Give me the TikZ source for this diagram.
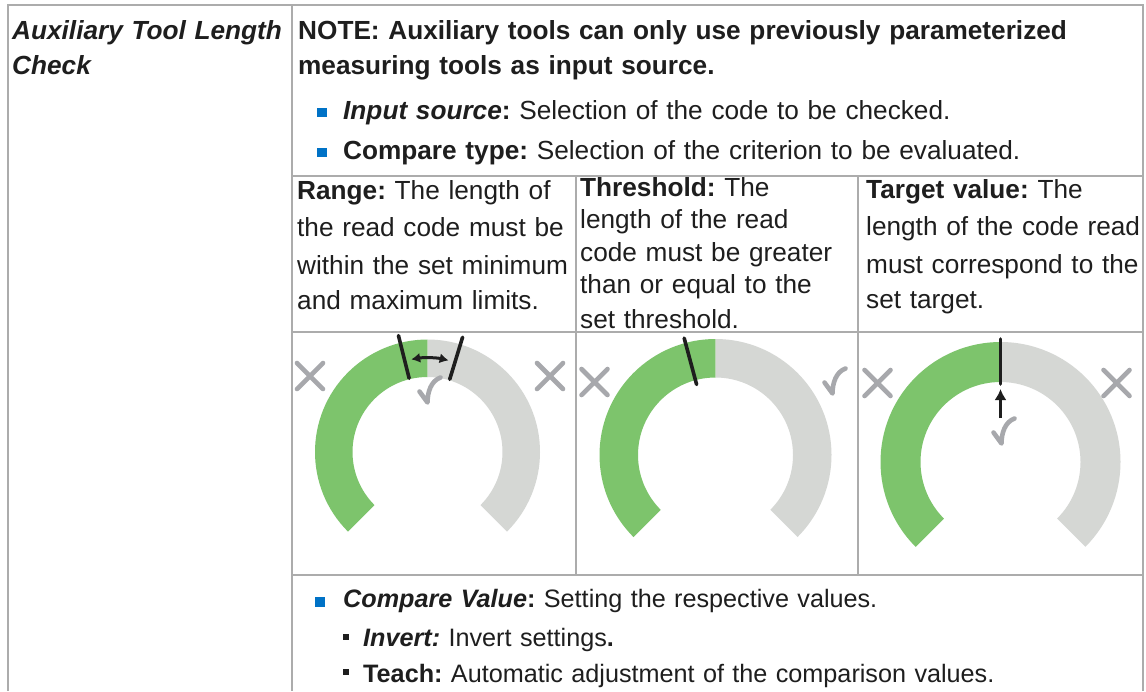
\documentclass[tikz,border=0pt]{standalone}
\usepackage{fontspec}
\setmainfont{Liberation Sans}
\usetikzlibrary{arrows.meta}
\frenchspacing
\definecolor{gridgrey}{RGB}{172,172,172}
\definecolor{gaugegreen}{RGB}{125,196,108}
\definecolor{gaugegrey}{RGB}{213,215,212}
\definecolor{markgrey}{RGB}{167,168,172}
\definecolor{bulletblue}{RGB}{0,114,198}
\definecolor{inkblack}{RGB}{30,30,30}
\tikzset{
  gridline/.style={draw=gridgrey,line width=1.6pt},
  celltext/.style={anchor=base west,align=left,inner sep=0pt,text=inkblack,
    font=\fontsize{26.2}{35}\selectfont},
  smalltext/.style={celltext,font=\fontsize{25.2}{35}\selectfont},
  bluebullet/.style={fill=bulletblue,inner sep=0pt,minimum size=9.5pt},
  blackbullet/.style={fill=inkblack,inner sep=0pt,minimum size=6pt},
  needle/.style={draw=inkblack,line width=3.6pt,line cap=round},
  pointer/.style={draw=inkblack,line width=3pt},
  markstroke/.style={draw=markgrey,line width=4.6pt,line cap=round,line join=round},
  okmark/.pic={\draw[markstroke] (-10.5,-1.5) -- (-2.5,-12.5)
      .. controls (-2.5,-2) and (1,9) .. (10.5,12.5);},
  nomark/.pic={\draw[markstroke] (-13,-13) -- (13,13) (-13,13) -- (13,-13);}
}
% ring: green part up to the top, grey part after it
\newcommand{\gaugering}[2]{%
  \fill[gaugegreen] (225:#1) arc[start angle=225,end angle=90,radius=#1]
    -- (90:#2) arc[start angle=90,end angle=225,radius=#2] -- cycle;
  \fill[gaugegrey] (90:#1) arc[start angle=90,end angle=-45,radius=#1]
    -- (-45:#2) arc[start angle=-45,end angle=90,radius=#2] -- cycle;}

\begin{document}
\begin{tikzpicture}[x=1pt,y=1pt]
  \path[use as bounding box,fill=white] (0,0) rectangle (1146,-691);

  % table rules
  \draw[gridline] (8,-691) -- (8,-5) -- (1143,-5) -- (1143,-691);
  \draw[gridline] (292,-5) -- (292,-691);
  \draw[gridline] (292,-176) -- (1143,-176);
  \draw[gridline] (292,-332) -- (1143,-332);
  \draw[gridline] (292,-575) -- (1143,-575);
  \draw[gridline] (576,-176) -- (576,-575);
  \draw[gridline] (858,-176) -- (858,-575);

  % left column and header
  \node[celltext,text width=275pt] (toolname) at (12,-39.5)
    {\bfseries\itshape Auxiliary Tool Length\\Check};
  \node[celltext,text width=840pt] (note) at (298,-39.5)
    {\bfseries NOTE: Auxiliary tools can only use previously parameterized\\measuring tools as input source.};
  \node[bluebullet] (inputdot) at (322,-112.5) {};
  \node[celltext,text width=790pt] (inputsrc) at (343,-119.5)
    {\textbf{\textit{Input source}}\textbf{:} Selection of the code to be checked.};
  \node[bluebullet] (typedot) at (322,-152.5) {};
  \node[celltext,text width=790pt] (cmptype) at (343,-159.5)
    {\textbf{Compare type:} Selection of the criterion to be evaluated.};

  % compare types
  \node[celltext,text width=290pt] (range) at (297,-199.5)
    {\fontsize{26.2}{37.3}\selectfont\textbf{Range:} The length of\\the read code must be\\within the set minimum\\and maximum limits.};
  \node[celltext,text width=290pt] (threshold) at (580,-196.5)
    {\fontsize{26.2}{32.3}\selectfont\textbf{Threshold:} The\\length of the read\\code must be greater\\than or equal to the\\set threshold.};
  \node[celltext,text width=290pt] (target) at (866,-198.5)
    {\fontsize{26.2}{37.3}\selectfont\textbf{Target value:} The\\length of the code read\\must correspond to the\\set target.};

  % range gauge
  \begin{scope}[shift={(427.5,-452)}]
    \gaugering{112.5}{75}
    \draw[needle] (104:76) -- (104:120);
    \draw[needle] (73:76) -- (73:120);
    \draw[pointer,{Latex[length=9pt,width=10pt]}-{Latex[length=9pt,width=10pt]}]
      (100:94) arc[start angle=100,end angle=77,radius=94];
    \pic at (2.5,62) {okmark};
    \pic at (-117.5,76) {nomark};
    \pic at (122.5,76) {nomark};
  \end{scope}

  % threshold gauge
  \begin{scope}[shift={(715.5,-455)}]
    \gaugering{116}{77.5}
    \draw[needle] (105:73) -- (105:121);
    \pic at (-121,73) {nomark};
    \pic at (119.5,74) {okmark};
  \end{scope}

  % target gauge
  \begin{scope}[shift={(1000.5,-462)}]
    \gaugering{120}{80}
    \draw[needle] (90:78) -- (90:123);
    \draw[pointer,-{Latex[length=11pt,width=12pt]}] (0,44) -- (0,73);
    \pic at (3.5,31) {okmark};
    \pic at (-123,79) {nomark};
    \pic at (116,79) {nomark};
  \end{scope}

  % compare value
  \node[bluebullet] (valuedot) at (320,-602) {};
  \node[smalltext,text width=790pt] (cmpvalue) at (343,-607.5)
    {\textbf{\textit{Compare Value}}\textbf{:} Setting the respective values.};
  \node[blackbullet] (invertdot) at (346,-637) {};
  \node[smalltext,text width=770pt] (invert) at (363,-646.5)
    {\textbf{\textit{Invert:}} Invert settings\textbf{.}};
  \node[blackbullet] (teachdot) at (346,-672) {};
  \node[smalltext,text width=770pt] (teach) at (363,-682.5)
    {\textbf{Teach:} Automatic adjustment of the comparison values.};
\end{tikzpicture}
\end{document}
